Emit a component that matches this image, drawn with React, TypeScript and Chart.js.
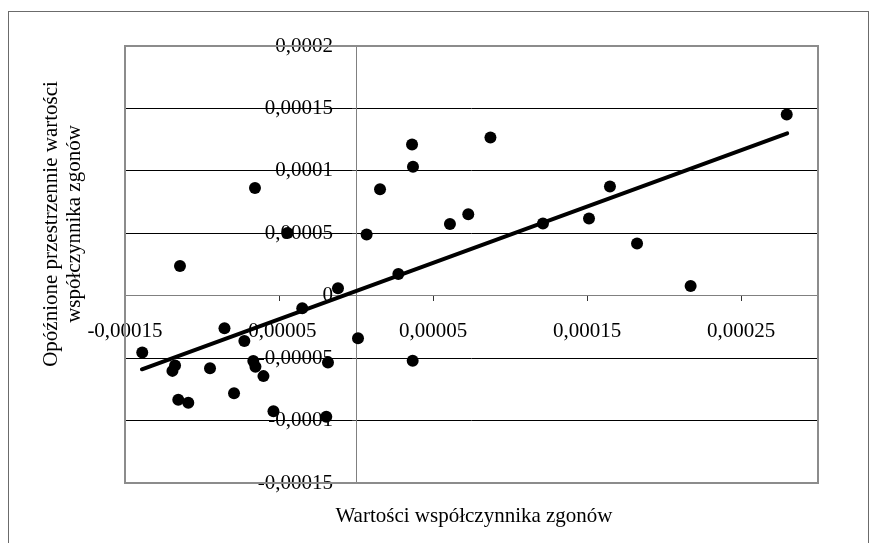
import { useEffect, useRef } from 'react';
import { Chart, registerables } from 'chart.js';

Chart.register(...registerables);

// Moran scatter: x = value, y = spatially lagged value
const pointsX = [
  -0.0001388, -0.0001192, -0.0001175, -0.0001154, -0.0001143, -0.0001089,
  -0.0000948, -0.0000854, -0.0000792, -0.0000725, -0.0000667, -0.0000653,
  -0.0000656, -0.0000601, -0.0000536, -0.0000445, -0.0000349, -0.0000193,
  -0.0000182, -0.0000117, 0.0000013, 0.0000069, 0.0000156, 0.0000275,
  0.0000364, 0.000037, 0.0000368, 0.000061, 0.0000729, 0.0000873,
  0.0001214, 0.0001513, 0.0001649, 0.0001825, 0.0002173, 0.0002797,
];
const pointsY = [
  -0.0000454, -0.0000602, -0.0000558, -0.0000834, 0.0000238, -0.0000858,
  -0.0000581, -0.0000261, -0.0000781, -0.0000362, -0.0000522, -0.0000568,
  0.0000862, -0.0000644, -0.0000926, 0.0000502, -0.0000101, -0.000097,
  -0.0000534, 0.0000059, -0.0000341, 0.0000491, 0.0000852, 0.0000174,
  0.0001212, 0.0001032, -0.000052, 0.0000574, 0.0000652, 0.0001267,
  0.0000579, 0.0000618, 0.0000875, 0.0000419, 0.0000078, 0.0001451,
];

// trend line end points
const trendX = [-0.000139, 0.00028];
const trendY = [-0.0000589, 0.00013];

const xMin = -0.00015;
const xMax = 0.0003;
const yMin = -0.00015;
const yMax = 0.0002;

const xTickValues = [-0.00015, -0.00005, 0.00005, 0.00015, 0.00025];
const xTickLabels = ['-0,00015', '-0,00005', '0,00005', '0,00015', '0,00025'];
const yTickValues = [-0.00015, -0.0001, -0.00005, 0, 0.00005, 0.0001, 0.00015, 0.0002];
const yTickLabels = ['-0,00015', '-0,0001', '-0,00005', '0', '0,00005', '0,0001', '0,00015', '0,0002'];

// x value where the right edge of the y tick labels sits (a little left of the y axis)
const yLabelAnchorX = -0.0000149;

const xTitle = 'Wartości współczynnika zgonów';
const yTitle = ['Opóźnione przestrzennie wartości', 'współczynnika zgonów'];

const FONT = '"Liberation Serif", "Times New Roman", serif';

function labelFor(values: number[], labels: string[], v: number) {
  for (let i = 0; i < values.length; i++) {
    if (Math.abs(values[i] - v) < 1e-9) return labels[i];
  }
  return '';
}

const decorPlugin = {
  id: 'decor',
  beforeDraw(chart: any) {
    const ctx = chart.ctx;
    ctx.save();
    ctx.fillStyle = '#ffffff';
    ctx.fillRect(0, 0, chart.width, chart.height);
    ctx.strokeStyle = '#6b6b6b';
    ctx.lineWidth = 1;
    ctx.strokeRect(8.5, 11.5, chart.width - 9, chart.height + 20);

    const ca = chart.chartArea;
    ctx.fillStyle = '#000000';
    ctx.font = '21px ' + FONT;
    ctx.textAlign = 'center';
    ctx.textBaseline = 'alphabetic';
    ctx.fillText(xTitle, (ca.left + ca.right) / 2 + 2.5, 522);

    ctx.translate(57, 224);
    ctx.rotate(-Math.PI / 2);
    ctx.fillText(yTitle[0], 0, 0);
    ctx.fillText(yTitle[1], 0, 23);
    ctx.restore();
  },
  beforeDatasetsDraw(chart: any) {
    const ctx = chart.ctx;
    const ca = chart.chartArea;
    ctx.save();
    ctx.strokeStyle = '#8c8c8c';
    ctx.lineWidth = 2;
    ctx.strokeRect(ca.left, ca.top, ca.right - ca.left, ca.bottom - ca.top);
    ctx.restore();
  },
};

export default function App() {
  const ref = useRef<HTMLCanvasElement | null>(null);

  useEffect(() => {
    document.body.style.margin = '0';
    const canvas = ref.current;
    if (!canvas) return;

    const scatterData = pointsX.map((x, i) => ({ x, y: pointsY[i] }));
    const trendData = trendX.map((x, i) => ({ x, y: trendY[i] }));

    const chart = new Chart(canvas, {
      type: 'scatter',
      data: {
        datasets: [
          {
            label: 'punkty',
            data: scatterData,
            backgroundColor: '#000000',
            borderColor: '#000000',
            borderWidth: 0,
            pointRadius: 6,
            pointHoverRadius: 6,
            showLine: false,
            xAxisID: 'x',
            yAxisID: 'y',
            order: 2,
          },
          {
            label: 'trend',
            data: trendData,
            borderColor: '#000000',
            backgroundColor: '#000000',
            borderWidth: 4,
            borderCapStyle: 'round',
            pointRadius: 0,
            showLine: true,
            fill: false,
            xAxisID: 'x',
            yAxisID: 'y',
            order: 1,
          },
        ],
      },
      options: {
        responsive: false,
        animation: false,
        devicePixelRatio: 1,
        layout: { padding: { left: 125, right: 51, top: 46, bottom: 60 } },
        plugins: {
          legend: { display: false },
          tooltip: { enabled: false },
          title: { display: false },
        },
        scales: {
          x: {
            type: 'linear',
            min: xMin,
            max: xMax,
            position: { y: 0 },
            afterBuildTicks: (scale: any) => {
              scale.ticks = xTickValues.map((v) => ({ value: v }));
            },
            grid: {
              drawOnChartArea: false,
              drawTicks: true,
              tickLength: 5,
              tickColor: '#333333',
            },
            border: { display: true, color: '#808080', width: 1 },
            ticks: {
              autoSkip: false,
              maxRotation: 0,
              minRotation: 0,
              padding: 18,
              color: '#000000',
              font: { family: FONT, size: 21 },
              callback: (v: any) => labelFor(xTickValues, xTickLabels, Number(v)),
            },
          },
          y: {
            type: 'linear',
            min: yMin,
            max: yMax,
            position: { x: 0 },
            afterBuildTicks: (scale: any) => {
              scale.ticks = yTickValues.map((v) => ({ value: v }));
            },
            grid: {
              drawOnChartArea: true,
              drawTicks: true,
              tickLength: 4,
              tickColor: '#333333',
              lineWidth: 1,
              color: (c: any) => {
                const v = c.tick ? c.tick.value : null;
                if (v === null || Math.abs(v) < 1e-12 || Math.abs(v - yMax) < 1e-12 || Math.abs(v - yMin) < 1e-12) {
                  return 'rgba(0,0,0,0)';
                }
                return '#000000';
              },
            },
            border: { display: true, color: '#808080', width: 1 },
            ticks: {
              display: false,
              autoSkip: false,
            },
          },
          yLabels: {
            type: 'linear',
            axis: 'y',
            min: yMin,
            max: yMax,
            position: { x: yLabelAnchorX },
            afterBuildTicks: (scale: any) => {
              scale.ticks = yTickValues.map((v) => ({ value: v }));
            },
            grid: { display: false, drawOnChartArea: false, drawTicks: false },
            border: { display: false },
            ticks: {
              autoSkip: false,
              padding: 0,
              color: '#000000',
              font: { family: FONT, size: 21 },
              callback: (v: any) => labelFor(yTickValues, yTickLabels, Number(v)),
            },
          },
        },
      },
      plugins: [decorPlugin],
    } as any);

    return () => {
      chart.destroy();
    };
  }, []);

  return (
    <canvas
      ref={ref}
      width={869}
      height={543}
      style={{ display: 'block', width: '869px', height: '543px' }}
    />
  );
}
